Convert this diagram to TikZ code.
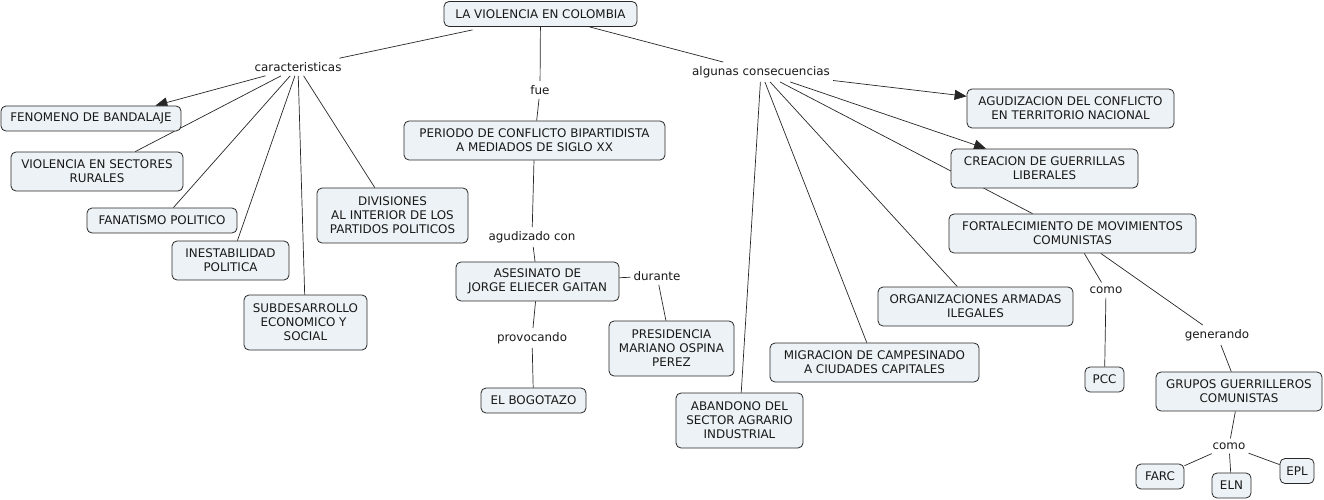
\documentclass[tikz,border=0pt]{standalone}
\usepackage{fontspec}
\setmainfont{DejaVu Sans}
\usetikzlibrary{arrows.meta,calc}
\pgfdeclarelayer{bg}
\pgfsetlayers{bg,main}
\definecolor{boxfill}{RGB}{236,242,245}
\definecolor{boxline}{RGB}{40,40,40}
\definecolor{txt}{RGB}{25,25,25}
\newcommand{\fnt}{\fontsize{11.9}{14}\selectfont}
\tikzset{
  box/.style={draw=boxline, fill=boxfill, rounded corners=5pt, align=center,
    inner xsep=2pt, inner ysep=1pt, font=\fnt, text=txt, line width=0.8pt},
  one/.style={minimum height=25},
  two/.style={minimum height=39},
  three/.style={minimum height=55},
  lbl/.style={font=\fnt, text=txt, inner xsep=3pt, inner ysep=4pt},
  con/.style={draw=black!85, line width=0.7pt},
  arr/.style={con, -{Triangle[length=12pt,width=10pt]}}
}
\begin{document}
\begin{tikzpicture}[x=1pt,y=-1pt]
\useasboundingbox (0,0) rectangle (1324,500);
% linking phrases
\node[lbl] (car) at (298,67) {caracteristicas};
\node[lbl] (fue) at (540,90) {fue};
\node[lbl] (alg) at (761,72) {algunas consecuencias};
\node[lbl] (agu) at (532,237) {agudizado con};
\node[lbl] (dur) at (657,276) {durante};
\node[lbl] (pro) at (532,338) {provocando};
\node[lbl] (como) at (1106,290) {como};
\node[lbl] (gen) at (1217,335) {generando};
\node[lbl] (como2) at (1229,446) {como};
% concepts
\node[box,one,minimum width=193] (root) at (540.5,14) {LA VIOLENCIA EN COLOMBIA};
\node[box,one,minimum width=180] (fen) at (91,118.5) {FENOMENO DE BANDALAJE};
\node[box,two,minimum width=172] (vio) at (97,171.5) {VIOLENCIA EN SECTORES\\RURALES};
\node[box,one,minimum width=150] (fan) at (162,220.5) {FANATISMO POLITICO};
\node[box,two,minimum width=117] (ine) at (230.5,260.5) {INESTABILIDAD\\POLITICA};
\node[box,three,minimum width=123] (sub) at (305.5,322.5) {SUBDESARROLLO\\ECONOMICO Y\rule{4pt}{0pt}\\SOCIAL};
\node[box,three,minimum width=151] (div) at (392.5,215.5) {DIVISIONES\\AL INTERIOR DE LOS\\PARTIDOS POLITICOS};
\node[box,two,minimum width=261] (per) at (534.5,140.5) {PERIODO DE CONFLICTO BIPARTIDISTA\\A MEDIADOS DE SIGLO XX};
\node[box,two,minimum width=163] (ase) at (537.5,281.5) {ASESINATO DE\\JORGE ELIECER GAITAN};
\node[box,one,minimum width=105] (bog) at (533.5,400.5) {EL BOGOTAZO};
\node[box,three,minimum width=125] (pre) at (671.5,348.5) {PRESIDENCIA\\MARIANO OSPINA\\PEREZ};
\node[box,three,minimum width=127] (aba) at (739.5,420.5) {ABANDONO DEL\\SECTOR AGRARIO\\INDUSTRIAL};
\node[box,two,minimum width=209] (mig) at (874.5,362.5) {MIGRACION DE CAMPESINADO\\A CIUDADES CAPITALES};
\node[box,two,minimum width=195] (org) at (975.5,306.5) {ORGANIZACIONES ARMADAS\\ILEGALES};
\node[box,two,minimum width=207] (agz) at (1070.5,108.5) {AGUDIZACION DEL CONFLICTO\\EN TERRITORIO NACIONAL};
\node[box,two,minimum width=187] (cre) at (1044.5,168.5) {CREACION DE GUERRILLAS\\LIBERALES};
\node[box,two,minimum width=247] (for) at (1072.5,233.5) {FORTALECIMIENTO DE MOVIMIENTOS\\COMUNISTAS};
\node[box,one,minimum width=39] (pcc) at (1104.5,379.5) {PCC};
\node[box,two,minimum width=166] (gru) at (1239,391.5) {GRUPOS GUERRILLEROS\\COMUNISTAS};
\node[box,one,minimum width=48] (far) at (1160,476.5) {FARC};
\node[box,one,minimum width=39] (eln) at (1231.5,485.5) {ELN};
\node[box,one,minimum width=34] (epl) at (1297,471) {EPL};
% connectors (behind boxes)
\begin{pgfonlayer}{bg}
\draw[con] ($(root.south)+(-68,3)$) -- (car);
\draw[arr] (car) -- ($(fen.north east)+(-26,0)$);
\draw[con] (car) -- (vio);
\draw[con] (car) -- (fan);
\draw[con] (car) -- (ine);
\draw[con] (car) -- (sub);
\draw[con] (car) -- (div);
\draw[con] (root) -- (fue);
\draw[con] (fue) -- (per);
\draw[con] (root) -- (alg);
\draw[arr] (alg) -- (agz);
\draw[arr] (alg) -- (cre);
\draw[con] (alg) -- ($(for.north)+(-40,0)$);
\draw[con] (alg) -- (org);
\draw[con] (alg) -- (mig);
\draw[con] (alg) -- (aba);
\draw[con] (per) -- (agu);
\draw[con] (agu) -- (ase);
\draw[con] (ase) -- (dur);
\draw[con] (dur) -- (pre);
\draw[con] (ase) -- (pro);
\draw[con] (pro) -- (bog);
\draw[con] (for) -- (como);
\draw[con] (como) -- (pcc);
\draw[con] (for) -- (gen);
\draw[con] (gen) -- (gru);
\draw[con] (gru) -- (como2);
\draw[con] (como2) -- (far);
\draw[con] (como2) -- (eln);
\draw[con] (como2) -- (epl);
\end{pgfonlayer}
\end{tikzpicture}
\end{document}
